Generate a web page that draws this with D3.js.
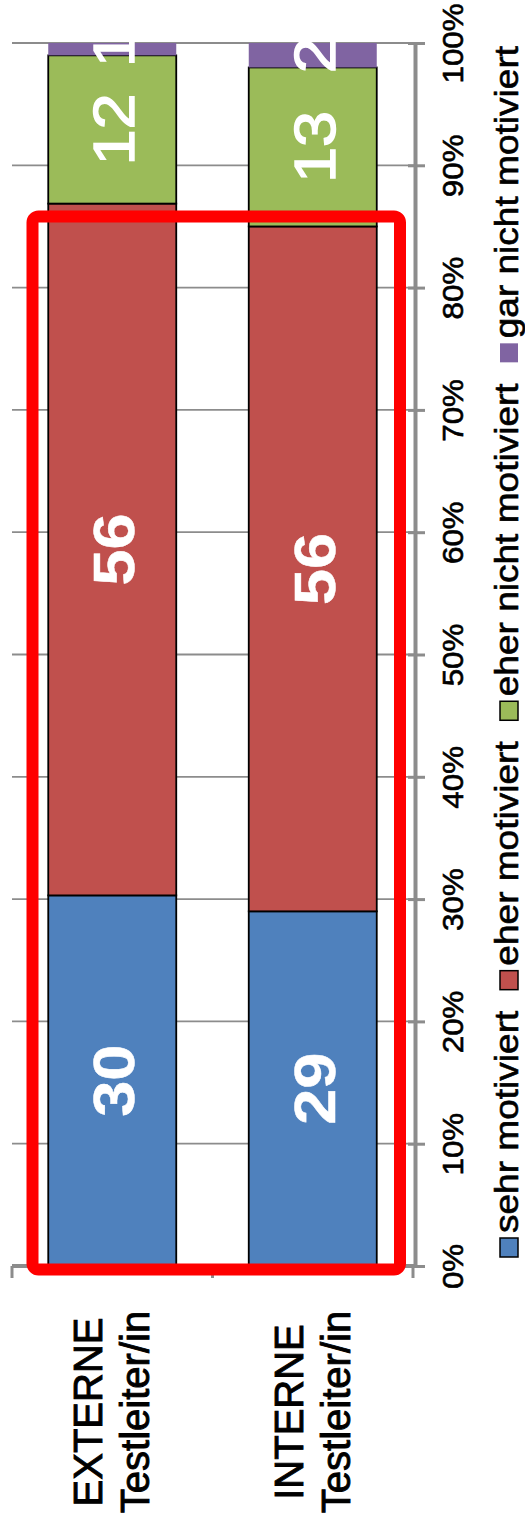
<!DOCTYPE html>
<html><head><meta charset="utf-8">
<script src="https://cdn.jsdelivr.net/npm/d3@7/dist/d3.min.js"></script>
<style>
body{margin:0;background:#fff}
svg{display:block}
text{font-family:"Liberation Sans",Arial,Helvetica,sans-serif}
</style>
</head><body>
<script>
// ---- data ----
const categories = ["EXTERNE Testleiter/in", "INTERNE Testleiter/in"];
const seriesNames = ["sehr motiviert", "eher motiviert", "eher nicht motiviert", "gar nicht motiviert"];
const sehrMotiviert = [30, 29];
const eherMotiviert = [56, 56];
const eherNichtMotiviert = [12, 13];
const garNichtMotiviert = [1, 2];
const tickValues = [0, 0.1, 0.2, 0.3, 0.4, 0.5, 0.6, 0.7, 0.8, 0.9, 1];
const colors = ["#4F81BD", "#C0504D", "#9BBB59", "#8064A2"];
const boldLabel = [true, true, false, false];

const seriesValues = [sehrMotiviert, eherMotiviert, eherNichtMotiviert, garNichtMotiviert];
const rows = categories.map((c, i) => {
  const r = {cat: c};
  seriesNames.forEach((s, k) => r[s] = seriesValues[k][i]);
  return r;
});
const stacked = d3.stack().keys(seriesNames).offset(d3.stackOffsetExpand)(rows);

const W = 525, H = 1535;
const svg = d3.select("body").append("svg").attr("width", W).attr("height", H);
svg.append("rect").attr("width", W).attr("height", H).attr("fill", "#fff");

const plotL = 12, plotR = 415, plotT = 43, plotB = 1266;
const x = d3.scaleBand().domain(categories).range([plotL, plotR - 2]).paddingInner(0.3616).paddingOuter(0.1808);
const y = d3.scaleLinear().domain([0, 1]).range([plotB, plotT]);
const stretch = 1.09;

// gridlines
svg.append("g").selectAll("line").data(tickValues.filter(v => v > 0)).join("line")
  .attr("x1", plotL).attr("x2", plotR).attr("y1", d => y(d)).attr("y2", d => y(d))
  .attr("stroke", "#8c8c8c").attr("stroke-width", 1.8);

// bars
const gBars = svg.append("g");
stacked.forEach((s, k) => {
  gBars.selectAll(null).data(s).join("rect")
    .attr("x", d => x(d.data.cat))
    .attr("width", x.bandwidth())
    .attr("y", d => y(d[1]))
    .attr("height", d => y(d[0]) - y(d[1]))
    .attr("fill", colors[k])
    .attr("stroke", k === 3 ? colors[k] : "#000")
    .attr("stroke-width", k === 3 ? 0 : 1.8);
});

// value axis (right)
const axisG = svg.append("g").attr("transform", `translate(${plotR},0)`)
  .call(d3.axisRight(y).tickValues(tickValues).tickFormat(d3.format(".0%")).tickSizeOuter(0).tickSizeInner(10));
axisG.select(".domain").attr("stroke", "#8c8c8c").attr("stroke-width", 4);
axisG.selectAll(".tick line").attr("x1", -7).attr("x2", 10).attr("stroke", "#8c8c8c").attr("stroke-width", 3);
axisG.selectAll(".tick text")
  .attr("x", null).attr("dy", null).attr("y", 0)
  .attr("transform", `translate(48,0) rotate(-90) scale(1.08,1)`)
  .attr("text-anchor", "middle")
  .attr("font-size", 29).attr("font-family", null).attr("fill", "#000")
  .attr("stroke", "#000").attr("stroke-width", 0.6);

// category axis (bottom)
const catG = svg.append("g");
catG.append("line").attr("x1", plotL).attr("x2", plotR).attr("y1", plotB).attr("y2", plotB)
  .attr("stroke", "#8c8c8c").attr("stroke-width", 4);
const bounds = d3.range(categories.length + 1).map(i => x.range()[0] + i * x.step());
catG.selectAll("line.t").data(bounds).join("line").attr("class", "t")
  .attr("x1", d => d).attr("x2", d => d).attr("y1", plotB).attr("y2", plotB + 12)
  .attr("stroke", "#8c8c8c").attr("stroke-width", 3);

// category labels
categories.forEach(c => {
  const cx = x(c) + x.bandwidth() / 2;
  const parts = c.split(" ");
  const offs = [-10, 37];
  parts.forEach((p, j) => {
    svg.append("text").text(p)
      .attr("transform", `translate(${cx + offs[j]},1412) rotate(-90)`)
      .attr("text-anchor", "middle").attr("font-size", 40).attr("fill", "#000")
      .attr("stroke", "#000").attr("stroke-width", 0.9);
  });
});

// data labels (clipped to plot area)
svg.append("clipPath").attr("id", "plotclip").append("rect")
  .attr("x", plotL).attr("y", plotT - 1).attr("width", plotR - plotL).attr("height", plotB - plotT + 1);
const gLab = svg.append("g").attr("clip-path", "url(#plotclip)");
stacked.forEach((s, k) => {
  s.forEach((d, i) => {
    const fs = 58;
    const cx = x(d.data.cat) + x.bandwidth() / 2 + 1;
    const cy = (y(d[0]) + y(d[1])) / 2;
    gLab.append("text").text(seriesValues[k][i])
      .attr("transform", `translate(${cx},${cy}) rotate(-90) scale(1.12,1)`)
      .attr("y", 0.358 * fs)
      .attr("text-anchor", "middle")
      .attr("font-size", fs)
      .attr("font-weight", boldLabel[k] ? "bold" : "normal")
      .attr("fill", "#fff")
      .attr("stroke", "#fff").attr("stroke-width", boldLabel[k] ? 0.5 : 1.4);
  });
});

// annotation rectangle
svg.append("rect").attr("x", 32.5).attr("y", 216.5).attr("width", 367.5).attr("height", 1053)
  .attr("rx", 6).attr("fill", "none").attr("stroke", "#ff0000").attr("stroke-width", 12);

// legend
const gLeg = svg.append("g");
let yb = 1257;
const sq = 19, legBase = 518, gapT = 5, gapItem = 21;
seriesNames.forEach((name, k) => {
  gLeg.append("rect").attr("x", 500).attr("y", yb - sq).attr("width", 18).attr("height", sq)
    .attr("fill", colors[k])
    .attr("stroke", k === 3 ? "none" : "#000").attr("stroke-width", 1.5);
  const ty = yb - sq - gapT;
  const t = gLeg.append("text").text(name)
    .attr("transform", `translate(${legBase},${ty}) rotate(-90) scale(${stretch},1)`)
    .attr("text-anchor", "start").attr("font-size", 34).attr("fill", "#000")
    .attr("stroke", "#000").attr("stroke-width", 0.6);
  const len = t.node().getComputedTextLength() * stretch;
  yb = ty - len - gapItem;
});
</script>
</body></html>
